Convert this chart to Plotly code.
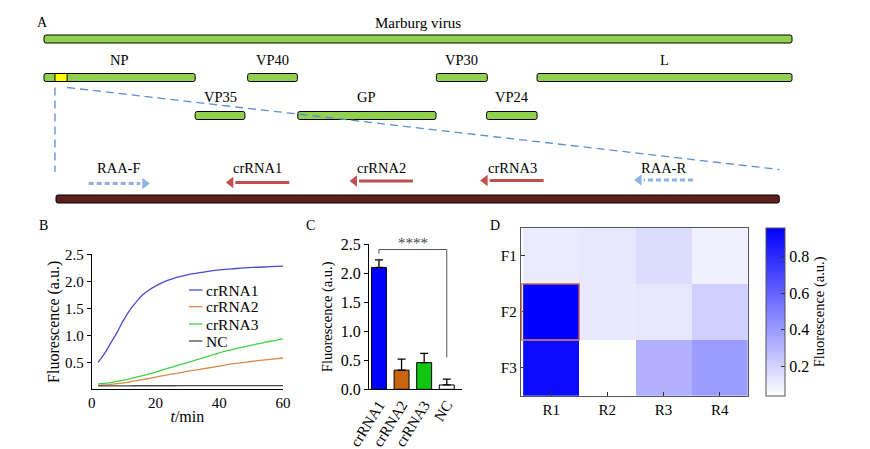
import plotly.graph_objects as go

W, H = 870, 449
FONT = "Liberation Serif"

# ---------------- Panel A data ----------------
genome_length_kb = 19.1
gene_names = ["NP", "VP35", "VP40", "GP", "VP30", "VP24", "L"]
gene_start_kb = [0.0, 3.86, 5.20, 6.48, 10.02, 11.30, 12.59]
gene_end_kb = [3.86, 5.13, 6.47, 10.01, 11.32, 12.59, 19.10]
gene_row = [1, 2, 1, 2, 1, 2, 1]
target_start_kb, target_end_kb = 0.28, 0.59

amplicon_length_bp = 310
feature_names = ["RAA-F", "crRNA1", "crRNA2", "crRNA3", "RAA-R"]
feature_start_bp = [14, 73, 126, 182, 248]
feature_end_bp = [40, 100, 153, 209, 273]
feature_strand = ["+", "-", "-", "-", "-"]

# ---------------- Panel B data ----------------
time_min = [2, 4, 6, 8, 10, 12, 14, 16, 18, 20, 22, 24, 26, 28, 30, 33, 36, 40, 44, 48, 52, 56, 60]
kin_crRNA1 = [0.50, 0.66, 0.86, 1.06, 1.28, 1.47, 1.62, 1.75, 1.84, 1.91, 1.97, 2.02, 2.06, 2.09,
              2.12, 2.15, 2.18, 2.21, 2.23, 2.25, 2.26, 2.27, 2.28]
kin_crRNA2 = [0.07, 0.08, 0.09, 0.105, 0.12, 0.14, 0.16, 0.18, 0.20, 0.225, 0.25, 0.27, 0.29, 0.31,
              0.33, 0.36, 0.39, 0.43, 0.47, 0.50, 0.53, 0.555, 0.58]
kin_crRNA3 = [0.10, 0.11, 0.125, 0.145, 0.17, 0.195, 0.225, 0.255, 0.285, 0.32, 0.355, 0.39, 0.425,
              0.46, 0.495, 0.55, 0.60, 0.675, 0.735, 0.79, 0.84, 0.89, 0.935]
kin_NC = [0.065, 0.065, 0.065, 0.065, 0.065, 0.065, 0.066, 0.066, 0.066, 0.066, 0.066, 0.066, 0.066,
          0.067, 0.067, 0.067, 0.067, 0.067, 0.067, 0.068, 0.068, 0.068, 0.068]
kin_names = ["crRNA1", "crRNA2", "crRNA3", "NC"]
kin_colors = ["#4B4BC8", "#D98B4A", "#45CF45", "#4A4A4A"]

# ---------------- Panel C data ----------------
bar_groups = ["crRNA1", "crRNA2", "crRNA3", "NC"]
bar_means = [2.10, 0.33, 0.46, 0.075]
bar_errors = [0.13, 0.19, 0.16, 0.10]
bar_colors = ["#0000FF", "#C8650F", "#11C511", "#FFFFFF"]

# ---------------- Panel D data ----------------
heat_rows = ["F1", "F2", "F3"]
heat_cols = ["R1", "R2", "R3", "R4"]
heat_z = [[0.108, 0.119, 0.163, 0.090],
          [0.959, 0.119, 0.126, 0.206],
          [0.920, 0.036, 0.322, 0.394]]


# ---------------- helpers (layout) ----------------
def px_x(p):
    return p / W


def px_y(p):
    return 1 - p / H


kb_per_px = genome_length_kb / 748.0
A_x_range = [-44 * kb_per_px, (W - 44) * kb_per_px]
A_height_px = 210
amp_disp_start = 12 * kb_per_px
amp_disp_end = 735.3 * kb_per_px


def amp_to_disp(bp):
    return amp_disp_start + bp / amplicon_length_bp * (amp_disp_end - amp_disp_start)


row_y = {0: 39, 1: 77.5, 2: 115.5}
label_y = {0: 22.5, 1: 60, 2: 96.5}
bar_h = 8
GREEN = "#92D050"

fig = go.Figure()

# ---- Panel A bars ----
fig.add_trace(go.Bar(
    y=[row_y[0]], base=[0], x=[genome_length_kb], orientation="h", width=bar_h,
    marker=dict(color=GREEN, line=dict(color="black", width=1), cornerradius=2),
    xaxis="x", yaxis="y", hoverinfo="skip"))
fig.add_trace(go.Bar(
    y=[row_y[r] for r in gene_row], base=gene_start_kb,
    x=[e - s for s, e in zip(gene_start_kb, gene_end_kb)], orientation="h", width=bar_h,
    marker=dict(color=GREEN, line=dict(color="black", width=1), cornerradius=2),
    xaxis="x", yaxis="y", hoverinfo="skip"))
fig.add_trace(go.Bar(
    y=[row_y[1]], base=[target_start_kb], x=[target_end_kb - target_start_kb], orientation="h",
    width=bar_h, marker=dict(color="#FFFF00", line=dict(color="black", width=1)),
    xaxis="x", yaxis="y", hoverinfo="skip"))
fig.add_trace(go.Bar(
    y=[199], base=[amp_to_disp(0)], x=[amp_to_disp(amplicon_length_bp) - amp_to_disp(0)],
    orientation="h", width=8,
    marker=dict(color="#5E1F1F", line=dict(color="black", width=1), cornerradius=2),
    xaxis="x", yaxis="y", hoverinfo="skip"))

annotations = []
annotations.append(dict(x=genome_length_kb / 2, y=label_y[0], xref="x", yref="y",
                        text="Marburg virus", showarrow=False, font=dict(size=15)))
for n, s, e, r in zip(gene_names, gene_start_kb, gene_end_kb, gene_row):
    annotations.append(dict(x=(s + e) / 2, y=label_y[r], xref="x", yref="y", text=n,
                            showarrow=False, font=dict(size=14.5)))

# zoom lines
shapes = []
shapes.append(dict(type="line", xref="x", yref="y", x0=target_start_kb, x1=target_start_kb,
                   y0=87.5, y1=172, line=dict(color="#5B8ED6", width=1.3, dash="8px,5px")))
shapes.append(dict(type="line", xref="x", yref="y", x0=target_end_kb, x1=amp_to_disp(amplicon_length_bp),
                   y0=87.5, y1=169.5, line=dict(color="#5B8ED6", width=1.3, dash="8px,5px")))

# features
arrow_y = [183.5, 182.5, 181, 180.5, 180]
head_off = 4.5 * kb_per_px
for n, s, e, strand, yv in zip(feature_names, feature_start_bp, feature_end_bp, feature_strand, arrow_y):
    xs, xe = amp_to_disp(s), amp_to_disp(e)
    primer = n.startswith("RAA")
    col = "#8DB4E2" if primer else "#C0504D"
    dash = "5px,3px" if primer else "solid"
    if strand == "+":
        line_x = [xs, xe - 2 * head_off]
        head_x, sym = xe - head_off, "triangle-right"
    else:
        line_x = [xe, xs + 2 * head_off]
        head_x, sym = xs + head_off, "triangle-left"
    fig.add_trace(go.Scatter(x=line_x, y=[yv, yv], mode="lines",
                             line=dict(color=col, width=3, dash=dash),
                             xaxis="x", yaxis="y", hoverinfo="skip"))
    fig.add_trace(go.Scatter(x=[head_x], y=[yv], mode="markers",
                             marker=dict(symbol=sym, size=10, color=col, line=dict(width=0)),
                             xaxis="x", yaxis="y", hoverinfo="skip"))
    annotations.append(dict(x=(xs + xe) / 2, y=168.3, xref="x", yref="y", text=n,
                            showarrow=False, font=dict(size=14.5)))

# ---- Panel B ----
for name, ys, col in zip(kin_names, [kin_crRNA1, kin_crRNA2, kin_crRNA3, kin_NC], kin_colors):
    fig.add_trace(go.Scatter(x=time_min, y=ys, mode="lines", name=name,
                             line=dict(color=col, width=1.3, shape="spline"),
                             xaxis="x2", yaxis="y2"))
leg_y_px = [290, 306.7, 324, 341]
for name, col, yp in zip(kin_names, kin_colors, leg_y_px):
    shapes.append(dict(type="line", xref="paper", yref="paper", x0=px_x(189), x1=px_x(202.5),
                       y0=px_y(yp), y1=px_y(yp), line=dict(color=col, width=1.3)))
    annotations.append(dict(x=px_x(204), y=px_y(yp), xref="paper", yref="paper", text=name,
                            showarrow=False, xanchor="left", yanchor="middle", font=dict(size=15.5)))

# ---- Panel C ----
fig.add_trace(go.Bar(x=bar_groups, y=bar_means, width=0.66,
                     marker=dict(color=bar_colors, line=dict(color="black", width=1)),
                     error_y=dict(type="data", array=bar_errors, arrayminus=[0] * 4, symmetric=False,
                                  color="black", thickness=1.3, width=4),
                     xaxis="x3", yaxis="y3", hoverinfo="skip"))
shapes.append(dict(type="path", xref="x3", yref="y3",
                   path="M 0,2.34 L 0,2.41 L 3,2.41 L 3,0.55",
                   line=dict(color="#555555", width=1)))
annotations.append(dict(x=px_x(412.7), y=px_y(243), xref="paper", yref="paper", text="****",
                        showarrow=False, xanchor="center", yanchor="middle",
                        font=dict(size=15, color="#444444")))

# ---- Panel D ----
fig.add_trace(go.Heatmap(z=heat_z, x=heat_cols, y=heat_rows, zmin=0.036, zmax=0.959,
                         colorscale=[[0, "#FFFFFF"], [1, "#0000FF"]],
                         xaxis="x4", yaxis="y4", hoverinfo="skip",
                         colorbar=dict(x=px_x(765.7), xanchor="left", y=px_y(311.85), yanchor="middle",
                                       len=168.3, lenmode="pixels", thickness=18.6,
                                       thicknessmode="pixels", xpad=0, ypad=0,
                                       outlinewidth=1, outlinecolor="#555555",
                                       tickvals=[0.2, 0.4, 0.6, 0.8], ticktext=["0.2", "0.4", "0.6", "0.8"],
                                       ticks="inside", ticklen=4, tickcolor="#333333",
                                       tickfont=dict(size=16),
                                       title=dict(text="Fluorescence (a.u.)", side="right",
                                                  font=dict(size=14.5)))))
shapes.append(dict(type="rect", xref="x4", yref="y4", x0=-0.53, x1=0.5, y0=0.5, y1=1.5,
                   line=dict(color="#E0875A", width=1.5)))

# panel letters
for letter, xp, yp in [("A", 42, 22), ("B", 43, 225), ("C", 310, 225), ("D", 495, 225)]:
    annotations.append(dict(x=px_x(xp), y=px_y(yp), xref="paper", yref="paper", text=letter,
                            showarrow=False, xanchor="center", yanchor="middle",
                            font=dict(size=14)))

axis_common = dict(showgrid=False, zeroline=False, automargin=False, showline=True,
                   linecolor="black", linewidth=1, tickfont=dict(size=15), color="black")

fig.update_layout(
    template="none",
    width=W, height=H, margin=dict(l=0, r=0, t=0, b=0),
    paper_bgcolor="white", plot_bgcolor="rgba(0,0,0,0)",
    showlegend=False, barmode="overlay",
    font=dict(family=FONT, size=14, color="black"),
    xaxis=dict(domain=[0, 1], range=A_x_range, visible=False, fixedrange=True),
    yaxis=dict(domain=[1 - A_height_px / H, 1], range=[A_height_px, 0], visible=False, fixedrange=True),
    xaxis2=dict(axis_common, domain=[px_x(91.7), px_x(283)], range=[0, 60], anchor="y2",
                tickvals=[0, 20, 40, 60], ticks="",
                title=dict(text="<i>t</i>/min", standoff=0, font=dict(size=16))),
    yaxis2=dict(axis_common, domain=[px_y(389.3), px_y(254.3)], range=[0, 2.5], anchor="x2",
                tickvals=[0.5, 1.0, 1.5, 2.0, 2.5], tickformat=".1f", ticks="outside", ticklen=4,
                title=dict(text="Fluorescence (a.u.)", standoff=1, font=dict(size=16))),
    xaxis3=dict(axis_common, domain=[px_x(369), px_x(461.7)], range=[-0.44, 3.66], anchor="y3",
                ticks="", tickangle=-58, tickfont=dict(size=15),
                categoryorder="array", categoryarray=bar_groups),
    yaxis3=dict(axis_common, domain=[px_y(389.3), px_y(244.3)], range=[0, 2.5], anchor="x3",
                tickvals=[0, 0.5, 1.0, 1.5, 2.0, 2.5], tickformat=".1f", ticks="outside", ticklen=4,
                tickfont=dict(size=16),
                title=dict(text="Fluorescence (a.u.)", standoff=4, font=dict(size=14.5))),
    xaxis4=dict(axis_common, domain=[px_x(520.7), px_x(747.7)], anchor="y4", mirror=True,
                linecolor="#555555", ticks="inside", ticklen=4, tickcolor="#333333"),
    yaxis4=dict(axis_common, domain=[px_y(396), px_y(227.7)], anchor="x4", mirror=True,
                autorange="reversed", linecolor="#555555", ticks="inside", ticklen=4,
                tickcolor="#333333"),
    annotations=annotations,
    shapes=shapes,
)

fig.write_html("out.html", post_script="document.body.style.margin='0px';",
               config={"displayModeBar": False})
